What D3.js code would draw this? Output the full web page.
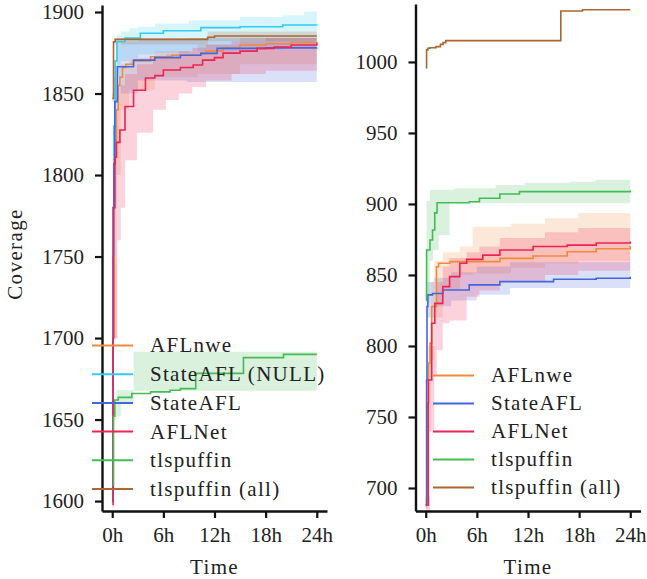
<!DOCTYPE html>
<html><head><meta charset="utf-8">
<script src="https://cdn.jsdelivr.net/npm/d3@7"></script>
<style>
html,body{margin:0;padding:0;background:#fff;}
svg{display:block;}
text{font-family:"Liberation Serif","Times New Roman",serif;fill:#222;}
</style></head>
<body>
<svg id="chart" width="647" height="579"></svg>
<script>
// ---------- DATA ----------
const seriesNames = ["AFLnwe","StateAFL (NULL)","StateAFL","AFLNet","tlspuffin","tlspuffin (all)"];
const seriesColors = ["#F28A3C","#33CCEE","#4466DD","#EE2255","#44BB55","#AA6633"];
const xTickValues = [0,6,12,18,24];
const xTickLabels = ["0h","6h","12h","18h","24h"];
const leftYTicks = [1600,1650,1700,1750,1800,1850,1900];
const rightYTicks = [700,750,800,850,900,950,1000];

// Left panel lines: [hour, coverage]
const L_AFLnwe = [[0,1600],[0.1,1700],[0.2,1780],[0.3,1819],[0.5,1840],[0.7,1855],[0.9,1860],[1.2,1866],[1.6,1868],[2.5,1870],[4.5,1872.6],[7,1873.5],[10.4,1874.6],[11,1876],[13,1878],[15,1879.8],[18,1880.5],[21,1881.3],[24,1881.8]];
const L_StateNULL = [[0,1600],[0.1,1750],[0.2,1830],[0.35,1870],[0.55,1881.8],[1.5,1884],[3.3,1887],[6,1888.5],[10.4,1890.4],[15,1891],[20,1892],[24,1892.5]];
const L_StateAFL = [[0,1600],[0.1,1780],[0.3,1845],[0.6,1866.4],[2.5,1870.5],[5,1872],[8,1873.5],[10.4,1874.6],[12.3,1877.7],[18,1878],[24,1878.3]];
const L_AFLNet = [[0,1598],[0.1,1700],[0.15,1780],[0.2,1807],[0.35,1811],[0.5,1820],[0.9,1827.6],[1.5,1842],[2.5,1852],[3.9,1859.5],[5,1861],[6,1864.4],[8,1866],[9.5,1867.5],[10.6,1870.5],[12,1872],[13,1874.8],[15,1876],[17,1877.7],[19,1878.5],[21,1879.8],[24,1881.2]];
const L_tlspuffin = [[0,1610],[0.15,1652],[0.3,1662],[0.7,1663.6],[2.3,1666],[4.5,1667],[6.8,1668],[8,1669],[9.8,1678.3],[15.4,1688],[20.1,1690],[24,1690]];
const L_tlsAll = [[0,1847],[0.15,1881.8],[0.35,1883.2],[11.2,1884.5],[12,1885.3],[24,1885.3]];

// Left panel bands: [hour, low, high]
const LB_AFLnwe = [[0,1600,1620],[0.2,1700,1800],[0.5,1800,1855],[1,1840,1868],[2,1852,1872],[5,1860,1876],[10,1862,1880],[15,1868,1884],[24,1872,1886]];
const LB_StateNULL = [[0,1600,1650],[0.2,1800,1860],[0.5,1860,1886],[1,1870,1888],[2,1872,1890],[3,1874,1891],[5,1875,1893],[9,1876,1895],[15,1877,1897],[20,1878,1898],[22.5,1878,1900.3],[24,1878,1900.3]];
const LB_StateAFL = [[0,1600,1640],[0.2,1780,1860],[0.5,1845,1880],[1,1850,1882],[3,1858,1883],[8.8,1857,1884],[24,1857,1885]];
const LB_AFLNet = [[0,1596,1605],[0.2,1700,1830],[0.6,1760,1845],[1,1780,1855],[1.5,1809,1862],[2.9,1826,1868],[4.8,1840,1872],[6.3,1846,1874],[7.8,1850,1876],[9.4,1854,1878],[11,1858,1880],[14,1862,1882],[18,1864,1884],[24,1866,1885]];
const LB_tlspuffin = [[0,1605,1615],[0.2,1650,1660],[0.5,1652,1668],[1,1660,1668],[2.5,1667.7,1691.6],[24,1667.7,1691.6]];
const LB_tlsAll = [[0,1845,1850],[0.2,1880,1884],[11.2,1882,1888],[24,1882,1889]];

// Right panel lines
const R_AFLnwe = [[0,688],[0.2,760],[0.35,788],[0.5,802],[0.7,827.7],[1.26,855.8],[1.5,858.2],[2.8,859.4],[8.7,861.7],[12.6,863.4],[16.6,866.4],[20,868.5],[24,870.4]];
const R_StateAFL = [[0,688],[0.1,776],[0.15,827.7],[0.25,836],[0.8,837],[2,839.4],[5.1,843],[8.7,845.3],[15,847],[20,847.7],[24,848.8]];
const R_AFLNet = [[0,688],[0.3,776],[0.7,816],[1.06,830],[2,841.8],[2.8,848.8],[4,858.2],[4.8,861],[6.7,864],[8.7,867.6],[12.6,870],[16.6,871],[20,872.5],[24,873.5]];
const R_tlspuffin = [[0,832.4],[0.1,867.6],[0.5,874.6],[0.8,881.7],[1.06,893.7],[1.33,900.9],[5.1,901.6],[6.3,904],[8.7,907],[11,908.7],[24,909.4]];
const R_tlsAll = [[0,996],[0.1,1008.5],[0.25,1009.6],[0.5,1010],[1.2,1010.8],[1.73,1012.4],[2.04,1013.6],[2.35,1015],[15.85,1035.9],[18.4,1036.8],[24,1036.8]];

// Right panel bands
const RB_AFLnwe = [[0,686,692],[0.3,740,800],[0.6,790,845],[1,820,860],[2,840,866],[4,850,870],[5.5,851,884],[10,855,886],[14,858,890],[17.9,860,893.7],[24,863,895.8]];
const RB_StateAFL = [[0,686,692],[0.1,770,800],[0.2,820,845],[1,828,848],[3,832,852],[6,836,856],[9.9,840.8,859],[24,841.8,862]];
const RB_AFLNet = [[0,684,694],[0.5,740,800],[1,780,830],[1.3,797,845],[2,816,856],[2.8,818,862],[4.8,834.7,866],[6.3,839,870],[8.7,845,876],[14,850,880],[17.9,853,883],[24,856,884]];
const RB_tlspuffin = [[0,823,845],[0.1,830,902],[0.5,860,910],[0.85,867.6,910],[1.5,878,910],[2.8,900.5,910],[3.4,900.5,911],[8.2,900.5,913.4],[11.6,900.5,915],[16.9,900.5,915.7],[19.9,900.5,917],[24,900.5,917]];

// ---------- DRAW ----------
const svg = d3.select("#chart");
const FS = 21;

function panel(cfg){
  const x = d3.scaleLinear().domain([-1.2,25.2]).range(cfg.xr);
  const y = d3.scaleLinear().domain(cfg.yd).range(cfg.yr);
  const g = svg.append("g");
  const area = d3.area().curve(d3.curveStepAfter).x(d=>x(d[0])).y0(d=>y(d[1])).y1(d=>y(d[2]));
  const line = d3.line().curve(d3.curveStepAfter).x(d=>x(d[0])).y(d=>y(d[1]));
  cfg.bands.forEach(b=>{
    if(!b.data) return;
    g.append("path").attr("d",area(b.data)).attr("fill",b.color).attr("fill-opacity",0.2).attr("stroke","none");
  });
  cfg.lines.forEach(l=>{
    g.append("path").attr("d",line(l.data)).attr("fill","none").attr("stroke",l.color).attr("stroke-width",1.6);
  });
  // axes
  const xa = g.append("g").attr("transform",`translate(0,${cfg.yr[0]})`)
    .call(d3.axisBottom(x).tickValues(xTickValues).tickFormat((d,i)=>xTickLabels[i]).tickSize(7).tickSizeOuter(0).tickPadding(9));
  const ya = g.append("g").attr("transform",`translate(${cfg.xr[0]},0)`)
    .call(d3.axisLeft(y).tickValues(cfg.yticks).tickFormat(d3.format("d")).tickSize(7).tickSizeOuter(0).tickPadding(11));
  [xa,ya].forEach(a=>{
    a.select(".domain").attr("stroke","#111").attr("stroke-width",2.4);
    a.selectAll(".tick line").attr("stroke","#111").attr("stroke-width",2.2);
    a.selectAll(".tick text").attr("font-size",FS).attr("font-family","Liberation Serif, serif").attr("fill","#222");
  });
  // legend
  cfg.legend.forEach((it,i)=>{
    const yy = cfg.legY0 + i*cfg.legDy;
    g.append("line").attr("x1",cfg.legX0).attr("x2",cfg.legX1).attr("y1",yy).attr("y2",yy)
      .attr("stroke",it.color).attr("stroke-width",2);
    g.append("text").attr("x",cfg.legTx).attr("y",yy).attr("dy","0.33em")
      .attr("font-size",FS).attr("letter-spacing","1.3px").text(it.name);
  });
  // x label
  g.append("text").attr("x",(x(0)+x(24))/2).attr("y",574).attr("text-anchor","middle")
    .attr("font-size",FS).attr("letter-spacing","1.4px").text("Time");
  return {x,y,g};
}

const leftLines = [L_AFLnwe,L_StateNULL,L_StateAFL,L_AFLNet,L_tlspuffin,L_tlsAll];
const leftBands = [LB_AFLnwe,LB_StateNULL,LB_StateAFL,LB_AFLNet,LB_tlspuffin,LB_tlsAll];
panel({
  xr:[102,327], yr:[511,5], yd:[1593.9,1904.3], yticks:leftYTicks,
  lines: leftLines.map((d,i)=>({data:d,color:seriesColors[i]})),
  bands: leftBands.map((d,i)=>({data:d,color:seriesColors[i]})),
  legend: seriesNames.map((n,i)=>({name:n,color:seriesColors[i]})),
  legX0:92, legX1:133, legTx:150, legY0:345.5, legDy:28.7
});

const rightIdx = [0,2,3,4,5];
const rightLines = [R_AFLnwe,R_StateAFL,R_AFLNet,R_tlspuffin,R_tlsAll];
const rightBands = [RB_AFLnwe,RB_StateAFL,RB_AFLNet,RB_tlspuffin,null];
panel({
  xr:[415.5,640.5], yr:[511,4], yd:[683.8,1040.8], yticks:rightYTicks,
  lines: rightLines.map((d,i)=>({data:d,color:seriesColors[rightIdx[i]]})),
  bands: rightBands.map((d,i)=>({data:d,color:seriesColors[rightIdx[i]]})),
  legend: rightIdx.map(i=>({name:seriesNames[i],color:seriesColors[i]})),
  legX0:433, legX1:474, legTx:491, legY0:375.5, legDy:28
});

// y label
svg.append("text").attr("transform","translate(22,254) rotate(-90)").attr("text-anchor","middle")
  .attr("font-size",FS).attr("letter-spacing","1.4px").text("Coverage");
</script>
</body></html>
